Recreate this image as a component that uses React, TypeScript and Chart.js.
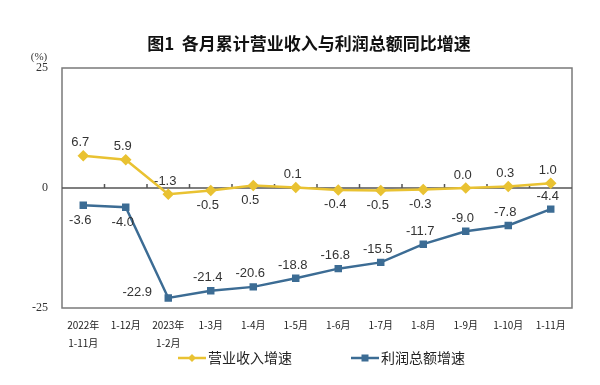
import React, { useEffect, useRef } from "react";
import { Chart, registerables } from "chart.js";

Chart.register(...registerables);

const categories: (string | string[])[] = [
  ["2022年", "1-11月"], "1-12月", ["2023年", "1-2月"], "1-3月", "1-4月", "1-5月",
  "1-6月", "1-7月", "1-8月", "1-9月", "1-10月", "1-11月",
];
const revenueGrowth = [6.7, 5.9, -1.3, -0.5, 0.5, 0.1, -0.4, -0.5, -0.3, 0.0, 0.3, 1.0];
const profitGrowth = [-3.6, -4.0, -22.9, -21.4, -20.6, -18.8, -16.8, -15.5, -11.7, -9.0, -7.8, -4.4];
const revenueLabelPos = ["top", "top", "top", "bottom", "bottom", "top", "bottom", "bottom", "bottom", "top", "top", "top"];
const profitLabelPos = ["bottom", "bottom", "left", "top", "top", "top", "top", "top", "top", "top", "top", "top"];
const yTicks = [-25, 0, 25];

const GOLD = "#E9C232";
const BLUE = "#3C6C94";
const TITLE = "图1  各月累计营业收入与利润总额同比增速";
const LEGEND = ["营业收入增速", "利润总额增速"];

const decorPlugin = {
  id: "decor",
  beforeDatasetsDraw(chart: any) {
    const { ctx, chartArea: a, scales } = chart;
    ctx.save();
    ctx.strokeStyle = "#7a7a7a";
    ctx.lineWidth = 1.5;
    ctx.strokeRect(a.left, a.top, a.right - a.left, a.bottom - a.top);
    const y0 = scales.y.getPixelForValue(0);
    ctx.strokeStyle = "#555";
    ctx.lineWidth = 1.5;
    ctx.beginPath();
    ctx.moveTo(a.left, y0);
    ctx.lineTo(a.right, y0);
    const n = categories.length;
    const w = (a.right - a.left) / n;
    for (let i = 1; i < n; i++) {
      const x = a.left + w * i;
      ctx.moveTo(x, y0);
      ctx.lineTo(x, y0 - 4);
    }
    ctx.stroke();
    ctx.restore();
  },
  afterDraw(chart: any) {
    const { ctx } = chart;
    ctx.save();
    ctx.fillStyle = "#111";
    ctx.font = "bold 17px 'Noto Sans CJK SC'";
    ctx.textAlign = "center";
    ctx.textBaseline = "middle";
    ctx.fillText(TITLE, 309, 44);
    ctx.font = "11px 'Liberation Serif'";
    ctx.fillStyle = "#333";
    ctx.fillText("(%)", 39, 57);

    ctx.font = "13px 'Liberation Sans'";
    ctx.fillStyle = "#333";
    const posSets = [revenueLabelPos, profitLabelPos];
    const vals = [revenueGrowth, profitGrowth];
    [0, 1].forEach((di) => {
      const meta = chart.getDatasetMeta(di);
      meta.data.forEach((pt: any, i: number) => {
        const p = posSets[di][i];
        let x = pt.x - 3;
        let y = pt.y;
        if (p === "top") y -= 13;
        else if (p === "bottom") y += 15;
        else if (p === "left") { x = pt.x - 31; y -= 5; }
        ctx.textAlign = "center";
        ctx.fillText(vals[di][i].toFixed(1), x, y);
      });
    });

    const items = [
      { x: 178, color: GOLD, shape: "diamond", label: LEGEND[0] },
      { x: 351, color: BLUE, shape: "square", label: LEGEND[1] },
    ];
    const ly = 358;
    items.forEach((it) => {
      ctx.strokeStyle = it.color;
      ctx.lineWidth = 2.5;
      ctx.beginPath();
      ctx.moveTo(it.x, ly);
      ctx.lineTo(it.x + 28, ly);
      ctx.stroke();
      ctx.fillStyle = it.color;
      const cx = it.x + 14;
      if (it.shape === "diamond") {
        ctx.beginPath();
        ctx.moveTo(cx, ly - 4);
        ctx.lineTo(cx + 4, ly);
        ctx.lineTo(cx, ly + 4);
        ctx.lineTo(cx - 4, ly);
        ctx.closePath();
        ctx.fill();
      } else {
        ctx.fillRect(cx - 3.5, ly - 3.5, 7, 7);
      }
      ctx.fillStyle = "#222";
      ctx.font = "14px 'Noto Sans CJK SC'";
      ctx.textAlign = "left";
      ctx.textBaseline = "middle";
      ctx.fillText(it.label, it.x + 30, ly);
    });
    ctx.restore();
  },
};

export default function App() {
  const ref = useRef<HTMLCanvasElement>(null);
  useEffect(() => {
    document.body.style.margin = "0";
    const chart = new Chart(ref.current!, {
      type: "line",
      data: {
        labels: categories as any,
        datasets: [
          {
            label: LEGEND[0],
            data: revenueGrowth,
            borderColor: GOLD,
            backgroundColor: GOLD,
            borderWidth: 2.5,
            pointStyle: "rectRot",
            pointRadius: 4,
            tension: 0,
          },
          {
            label: LEGEND[1],
            data: profitGrowth,
            borderColor: BLUE,
            backgroundColor: BLUE,
            borderWidth: 2.5,
            pointStyle: "rect",
            pointRadius: 3.5,
            tension: 0,
          },
        ],
      },
      options: {
        responsive: false,
        animation: false,
        devicePixelRatio: 1,
        layout: { padding: { top: 68, left: 0, right: 28, bottom: 22 } },
        plugins: { legend: { display: false }, tooltip: { enabled: false }, title: { display: false } },
        scales: {
          x: {
            offset: true,
            grid: { display: false },
            border: { display: false },
            ticks: {
              autoSkip: false,
              maxRotation: 0,
              padding: 0,
              color: "#222",
              font: { size: 10, family: "'Noto Sans CJK SC'", lineHeight: 1.8 },
            },
            afterFit: (s: any) => { s.height = 55; },
          },
          y: {
            min: -25,
            max: 25,
            grid: { display: false },
            border: { display: false },
            afterBuildTicks: (s: any) => { s.ticks = yTicks.map((v) => ({ value: v })); },
            ticks: {
              padding: 6,
              color: "#333",
              font: { size: 12, family: "'Liberation Serif'" },
            },
            afterFit: (s: any) => { s.width = 62; },
          },
        },
      },
      plugins: [decorPlugin],
    });
    return () => chart.destroy();
  }, []);
  return <canvas ref={ref} width={600} height={385} style={{ display: "block" }} />;
}
